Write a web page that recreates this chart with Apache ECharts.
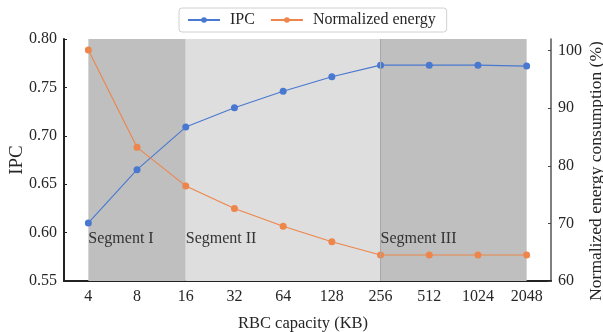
<!DOCTYPE html>
<html>
<head>
<meta charset="utf-8">
<script src="https://cdn.jsdelivr.net/npm/echarts@6/dist/echarts.min.js"></script>
<style>
html,body{margin:0;padding:0;background:#fff;}
#chart{width:603px;height:332px;}
</style>
</head>
<body>
<div id="chart"></div>
<script>
const categories = ['4','8','16','32','64','128','256','512','1024','2048'];
const ipcValues = [0.610, 0.665, 0.709, 0.729, 0.746, 0.761, 0.773, 0.773, 0.773, 0.772];
const energyValues = [100.1, 83.2, 76.5, 72.6, 69.5, 66.8, 64.5, 64.5, 64.5, 64.5];
const segments = [
  {name: 'Segment I', from: '4', to: '16', color: '#bfbfbf'},
  {name: 'Segment II', from: '16', to: '256', color: '#dedede'},
  {name: 'Segment III', from: '256', to: '2048', color: '#bfbfbf'}
];
const ipcTicks = [0.55, 0.80, 0.05];
const energyTicks = [60, 102, 10];

const FONT = '"Liberation Serif", "Times New Roman", serif';
const TXT = '#262626';
const BLUE = '#4878d0';
const ORANGE = '#ee854a';

const chart = echarts.init(document.getElementById('chart'), null, {renderer: 'canvas'});
chart.setOption({
  animation: false,
  backgroundColor: '#fff',
  textStyle: {fontFamily: FONT, color: TXT},
  legend: {
    top: 8,
    left: 179,
    padding: [4, 11, 4, 8],
    itemGap: 15,
    itemWidth: 32,
    itemHeight: 7,
    borderColor: '#d0d0d0',
    borderWidth: 1,
    borderRadius: 3,
    backgroundColor: '#fff',
    textStyle: {fontFamily: FONT, fontSize: 16, color: TXT, padding: [0, 0, 0, 5]},
    data: ['IPC', 'Normalized energy']
  },
  grid: {left: 64, right: 52, top: 39, bottom: 51, containLabel: false, outerBoundsMode: 'none'},
  xAxis: {
    type: 'category',
    data: categories,
    boundaryGap: true,
    name: 'RBC capacity (KB)',
    nameLocation: 'middle',
    nameGap: 34,
    nameMoveOverlap: false,
    nameTextStyle: {fontFamily: FONT, fontSize: 16.5, color: TXT, padding: [0, 9, 0, 0]},
    axisLine: {lineStyle: {color: '#222', width: 2}},
    axisTick: {inside: true, alignWithLabel: true, length: 3, lineStyle: {color: '#222'}},
    axisLabel: {fontFamily: FONT, fontSize: 16, color: TXT, margin: 8},
    splitLine: {show: false}
  },
  yAxis: [
    {
      type: 'value',
      min: ipcTicks[0], max: ipcTicks[1], interval: ipcTicks[2],
      name: 'IPC',
      nameLocation: 'middle',
      nameGap: 37,
      nameMoveOverlap: false,
      nameTextStyle: {fontFamily: FONT, fontSize: 19, color: TXT},
      axisLine: {show: true, lineStyle: {color: '#222', width: 2}},
      axisTick: {show: true, inside: true, length: 3, lineStyle: {color: '#222'}},
      axisLabel: {fontFamily: FONT, fontSize: 16, color: TXT, margin: 7,
        formatter: v => v.toFixed(2)},
      splitLine: {show: false}
    },
    {
      type: 'value',
      min: energyTicks[0], max: energyTicks[1], interval: energyTicks[2],
      position: 'right',
      name: 'Normalized energy consumption (%)',
      nameLocation: 'middle',
      nameGap: 36,
      nameMoveOverlap: false,
      nameTextStyle: {fontFamily: FONT, fontSize: 17.5, color: TXT, padding: [0, 22, 0, 0]},
      axisLine: {show: true, lineStyle: {color: '#555', width: 1.5}},
      axisTick: {show: true, inside: true, length: 3, lineStyle: {color: '#444'}},
      axisLabel: {fontFamily: FONT, fontSize: 16, color: TXT, margin: 7, showMaxLabel: false,
        formatter: v => (Math.abs(v % 10) < 1e-9 ? String(v) : '')},
      splitLine: {show: false}
    }
  ],
  series: [
    {
      name: 'IPC',
      type: 'line',
      yAxisIndex: 0,
      data: ipcValues,
      color: BLUE,
      symbol: 'circle',
      symbolSize: 7,
      lineStyle: {width: 1.1, color: BLUE},
      itemStyle: {color: BLUE},
      z: 3,
      markArea: {
        silent: true,
        z: 1,
        data: segments.map(s => [
          {xAxis: s.from, itemStyle: {color: s.color},
           label: {show: true, formatter: s.name, position: [0, 192],
             fontFamily: FONT, fontSize: 16, color: '#333'}},
          {xAxis: s.to}
        ])
      },
      markLine: {
        silent: true,
        symbol: ['none', 'none'],
        label: {show: false},
        lineStyle: {color: '#a8a8a8', width: 1, type: 'solid'},
        data: [{xAxis: segments[2].from}]
      }
    },
    {
      name: 'Normalized energy',
      type: 'line',
      yAxisIndex: 1,
      data: energyValues,
      color: ORANGE,
      symbol: 'circle',
      symbolSize: 7,
      lineStyle: {width: 1.1, color: ORANGE},
      itemStyle: {color: ORANGE},
      z: 4
    }
  ]
});
</script>
</body>
</html>
